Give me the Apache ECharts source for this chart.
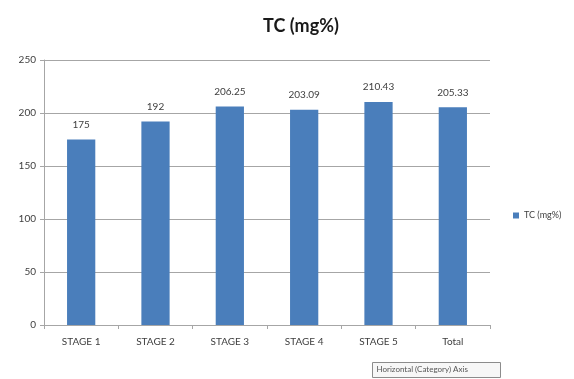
<!DOCTYPE html>
<html>
<head>
<meta charset="utf-8">
<script src="https://cdn.jsdelivr.net/npm/echarts@6/dist/echarts.min.js"></script>
<style>
  html, body { margin: 0; padding: 0; background: #fff; }
  #chart { width: 574px; height: 379px; }
</style>
</head>
<body>
<div id="chart"></div>
<script>
// TC (mg%) by stage
const categories = ['STAGE 1', 'STAGE 2', 'STAGE 3', 'STAGE 4', 'STAGE 5', 'Total'];
const tcValues = [175, 192, 206.25, 203.09, 210.43, 205.33];
const tcLabels = ['175', '192', '206.25', '203.09', '210.43', '205.33'];
const yTicks = [0, 50, 100, 150, 200, 250];

const FONT = 'Lato, "Liberation Sans", sans-serif';
const chart = echarts.init(document.getElementById('chart'), null, { renderer: 'canvas' });

chart.setOption({
  animation: false,
  backgroundColor: '#ffffff',
  title: {
    text: 'TC (mg%)',
    left: 296,
    top: 12,
    textAlign: 'center',
    textStyle: { fontFamily: FONT, fontSize: 18, fontWeight: 'bold', color: '#1a1a1a' }
  },
  legend: {
    data: ['TC (mg%)'],
    orient: 'vertical',
    left: 508,
    top: 206,
    itemWidth: 6,
    itemHeight: 6,
    itemGap: 4,
    icon: 'rect',
    textStyle: { fontFamily: FONT, fontSize: 9, color: '#404040' }
  },
  grid: { left: 44, right: 84, top: 60, bottom: 54 },
  xAxis: {
    type: 'category',
    data: categories,
    boundaryGap: true,
    axisLine: { lineStyle: { color: '#a6a6a6' } },
    axisTick: { show: true, length: 4, alignWithLabel: false, lineStyle: { color: '#a6a6a6' } },
    axisLabel: { fontFamily: FONT, fontSize: 10, color: '#404040', margin: 12 }
  },
  yAxis: {
    type: 'value',
    min: yTicks[0],
    max: yTicks[yTicks.length - 1],
    interval: 50,
    axisLine: { show: true, lineStyle: { color: '#a6a6a6' } },
    axisTick: { show: true, length: 4, lineStyle: { color: '#a6a6a6' } },
    axisLabel: { fontFamily: FONT, fontSize: 10, color: '#404040', margin: 8 },
    splitLine: { lineStyle: { color: '#a6a6a6' } }
  },
  series: [{
    name: 'TC (mg%)',
    type: 'bar',
    data: tcValues,
    barWidth: '38%',
    itemStyle: { color: '#4a7ebb' },
    label: {
      show: true,
      position: 'top',
      distance: 10,
      fontFamily: FONT,
      fontSize: 10,
      color: '#404040',
      formatter: p => tcLabels[p.dataIndex]
    }
  }],
  graphic: [{
    type: 'group',
    left: 372,
    top: 362,
    children: [{
      type: 'rect',
      shape: { x: 0, y: 0, width: 128, height: 15 },
      style: { fill: '#f7f7f7', stroke: '#8c8c8c', lineWidth: 1 }
    }, {
      type: 'text',
      left: 4,
      top: 3,
      style: { text: 'Horizontal (Category) Axis', fontFamily: FONT, fontSize: 8, fill: '#555555' }
    }]
  }]
});
</script>
</body>
</html>
